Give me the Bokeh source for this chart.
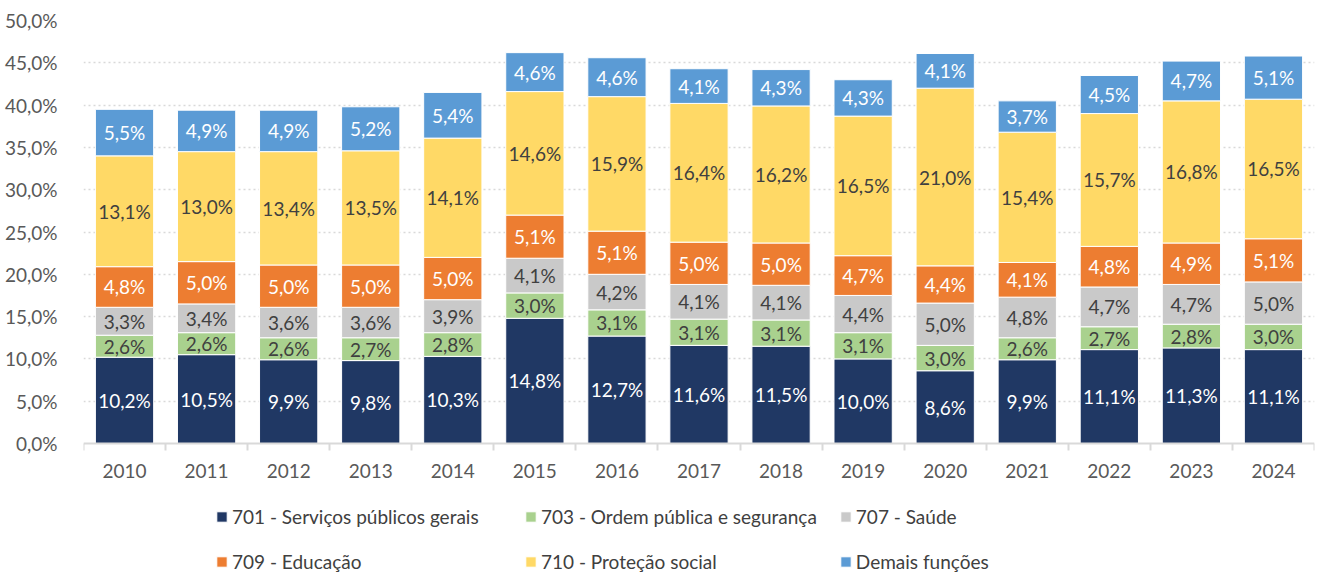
from bokeh.plotting import figure
from bokeh.models import ColumnDataSource, FixedTicker, Legend
from bokeh.core.properties import value
from bokeh.embed import file_html
from bokeh.resources import INLINE

years = ["2010", "2011", "2012", "2013", "2014", "2015", "2016", "2017",
         "2018", "2019", "2020", "2021", "2022", "2023", "2024"]
s701 = [10.2, 10.5, 9.9, 9.8, 10.3, 14.8, 12.7, 11.6, 11.5, 10.0, 8.6, 9.9, 11.1, 11.3, 11.1]
s703 = [2.6, 2.6, 2.6, 2.7, 2.8, 3.0, 3.1, 3.1, 3.1, 3.1, 3.0, 2.6, 2.7, 2.8, 3.0]
s707 = [3.3, 3.4, 3.6, 3.6, 3.9, 4.1, 4.2, 4.1, 4.1, 4.4, 5.0, 4.8, 4.7, 4.7, 5.0]
s709 = [4.8, 5.0, 5.0, 5.0, 5.0, 5.1, 5.1, 5.0, 5.0, 4.7, 4.4, 4.1, 4.8, 4.9, 5.1]
s710 = [13.1, 13.0, 13.4, 13.5, 14.1, 14.6, 15.9, 16.4, 16.2, 16.5, 21.0, 15.4, 15.7, 16.8, 16.5]
demais = [5.5, 4.9, 4.9, 5.2, 5.4, 4.6, 4.6, 4.1, 4.3, 4.3, 4.1, 3.7, 4.5, 4.7, 5.1]

series_names = ["701 - Serviços públicos gerais", "703 - Ordem pública e segurança",
                "707 - Saúde", "709 - Educação", "710 - Proteção social", "Demais funções"]
y_ticks = [0, 5, 10, 15, 20, 25, 30, 35, 40, 45, 50]
y_tick_labels = ["0,0%", "5,0%", "10,0%", "15,0%", "20,0%", "25,0%",
                 "30,0%", "35,0%", "40,0%", "45,0%", "50,0%"]

series = [s701, s703, s707, s709, s710, demais]
colors = ["#203864", "#A9D18E", "#C9C9C9", "#ED7D31", "#FFD966", "#5B9BD5"]
label_colors = ["#FFFFFF", "#404040", "#404040", "#FFFFFF", "#404040", "#FFFFFF"]
FONT = "Lato"
FS = "19px"

n = len(years)
xs = [i + 0.5 for i in range(n)]
keys = ["s%d" % k for k in range(len(series))]
data = {"x": xs}
for k, s in zip(keys, series):
    data[k] = s
source = ColumnDataSource(data)

# frame extends below the value axis to host the legend; 0% sits at 423 px under 50%
frame_h = 554
y_min = 50 - frame_h * 50.0 / 423

p = figure(frame_width=1231, frame_height=frame_h, x_range=(0, n),
           y_range=(y_min, 50),
           output_backend="svg", toolbar_location=None,
           min_border_left=83, min_border_right=11, min_border_top=20,
           min_border_bottom=0)
p.outline_line_color = None

renderers = p.vbar_stack(keys, x="x", width=0.71, color=colors, source=source,
                         line_color="white", line_width=1)

# data labels
lx, ly, lt, lc = [], [], [], []
for i in range(n):
    base = 0.0
    for s, c in zip(series, label_colors):
        v = s[i]
        lx.append(xs[i]); ly.append(base + v / 2.0)
        lt.append(("%.1f" % v).replace(".", ",") + "%"); lc.append(c)
        base += v
lsrc = ColumnDataSource(dict(x=lx, y=ly, t=lt, c=lc))
p.text(x="x", y="y", text="t", text_color="c", source=lsrc,
       text_align="center", text_baseline="middle",
       text_font=value(FONT), text_font_size=FS)

# axes
p.yaxis.ticker = FixedTicker(ticks=y_ticks)
p.yaxis.major_label_overrides = {t: l for t, l in zip(y_ticks, y_tick_labels)}
p.yaxis.axis_line_color = None
p.yaxis.major_tick_line_color = None
p.yaxis.minor_tick_line_color = None
p.yaxis.major_label_text_font = FONT
p.yaxis.major_label_text_font_size = FS
p.yaxis.major_label_text_color = "#595959"
p.yaxis.major_label_standoff = 20

p.xaxis.fixed_location = 0
p.xaxis.ticker = FixedTicker(ticks=xs, minor_ticks=list(range(n + 1)))
p.xaxis.major_label_overrides = {x: y for x, y in zip(xs, years)}
p.xaxis.axis_line_color = "#D9D9D9"
p.xaxis.axis_line_width = 2
p.xaxis.major_tick_line_color = None
p.xaxis.minor_tick_line_color = "#D9D9D9"
p.xaxis.minor_tick_line_width = 2
p.xaxis.minor_tick_out = 7
p.xaxis.minor_tick_in = 0
p.xaxis.major_label_text_font = FONT
p.xaxis.major_label_text_font_size = FS
p.xaxis.major_label_text_color = "#595959"
p.xaxis.major_label_standoff = 13

p.xgrid.grid_line_color = None
p.ygrid.ticker = FixedTicker(ticks=y_ticks[1:])
p.ygrid.grid_line_color = "#D9D9D9"
p.ygrid.grid_line_dash = "2 3"
p.ygrid.grid_line_width = 1.5

legend = Legend(items=[(nm, [r]) for nm, r in zip(series_names, renderers)],
                orientation="horizontal", ncols=3,
                location=(132, 1), border_line_color=None,
                background_fill_alpha=0,
                label_text_font=FONT, label_text_font_size=FS,
                label_text_color="#404040",
                glyph_width=13, glyph_height=13, label_standoff=4,
                label_width=270, label_height=20, spacing=22, padding=0,
                margin=0)
p.add_layout(legend, "center")

open("out.html", "w").write(file_html(p, INLINE))
